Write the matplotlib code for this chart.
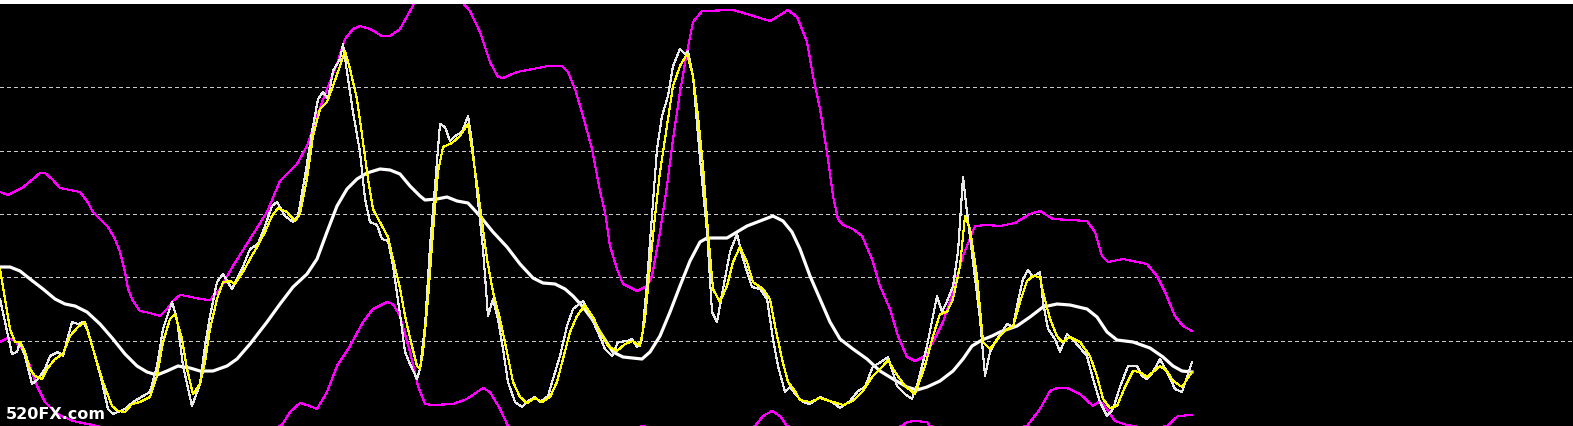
import matplotlib
matplotlib.use("Agg")
import matplotlib.pyplot as plt

# oscillator readings, y measured downward from the top of the pane (axis is inverted)
upper_x = [0, 8, 22, 33, 40, 45, 52, 60, 70, 80, 87, 93, 100, 108, 115, 120, 125, 128, 133, 140,
           150, 160, 167, 173, 180, 187, 200, 210, 220, 233, 250, 267, 280, 297, 307, 317, 327,
           337, 345, 353, 360, 370, 382, 390, 400, 415, 425, 440, 455, 462, 470, 480, 490, 498,
           503, 517, 533, 548, 562, 568, 575, 583, 592, 600, 605, 610, 617, 623, 637, 647, 652,
           660, 667, 673, 680, 687, 693, 702, 733, 747, 760, 770, 782, 788, 797, 800, 807, 813,
           820, 827, 833, 838, 843, 853, 862, 872, 880, 890, 898, 907, 915, 925, 933, 943, 953,
           963, 975, 987, 1000, 1015, 1030, 1040, 1053, 1087, 1095, 1102, 1108, 1123, 1147, 1157,
           1165, 1175, 1183, 1192]
upper_y = [193, 196, 189, 180, 174, 174, 180, 189, 191, 193, 202, 213, 220, 228, 240, 253, 273, 290,
           302, 312, 314, 317, 310, 302, 296, 297, 300, 301, 290, 267, 240, 213, 182, 165, 147,
           117, 90, 65, 40, 30, 27, 30, 37, 37, 30, 3, -5, -8, -3, 3, 12, 33, 63, 78, 79, 73, 70,
           67, 67, 73, 90, 117, 150, 192, 213, 247, 270, 285, 292, 287, 277, 233, 187, 140, 93,
           53, 23, 12, 11, 15, 19, 22, 15, 11, 18, 25, 43, 77, 110, 153, 197, 220, 226, 230, 237,
           260, 287, 310, 337, 358, 362, 357, 343, 323, 293, 257, 227, 226, 227, 224, 215, 212,
           220, 222, 233, 257, 263, 260, 265, 277, 293, 317, 327, 332]

lower_x = [0, 8, 15, 22, 30, 37, 45, 57, 73, 97, 150, 200, 250, 282, 290, 300, 307, 317, 327, 337,
           350, 363, 373, 387, 393, 400, 410, 418, 425, 433, 453, 467, 477, 483, 490, 500, 508,
           540, 600, 643, 690, 730, 755, 763, 772, 780, 787, 840, 902, 907, 915, 927, 930, 970,
           1027, 1040, 1050, 1057, 1067, 1080, 1093, 1100, 1107, 1115, 1127, 1133, 1150, 1167,
           1178, 1192]
lower_y = [343, 339, 342, 350, 367, 387, 403, 415, 422, 427, 440, 445, 440, 426, 413, 404, 406,
           410, 393, 367, 347, 323, 310, 303, 305, 317, 353, 387, 405, 406, 405, 400, 393, 389,
           393, 410, 427, 440, 437, 427, 440, 437, 427, 417, 412, 417, 427, 440, 427, 423, 422,
           423, 427, 435, 427, 410, 392, 389, 389, 395, 407, 402, 410, 422, 426, 427, 430, 427,
           417, 416]

ma_x = [0, 10, 20, 30, 43, 55, 65, 75, 87, 100, 113, 125, 137, 147, 157, 167, 178, 190, 200, 213,
        227, 237, 250, 267, 280, 293, 307, 317, 327, 337, 347, 357, 367, 380, 390, 400, 410,
        420, 425, 437, 447, 457, 468, 480, 493, 507, 520, 533, 543, 555, 565, 573, 583, 592,
        600, 613, 623, 642, 650, 660, 670, 680, 690, 700, 707, 727, 737, 747, 760, 773, 783,
        792, 800, 810, 820, 830, 840, 853, 867, 880, 893, 907, 917, 927, 940, 953, 963, 972,
        982, 992, 1000, 1017, 1030, 1043, 1057, 1070, 1087, 1097, 1107, 1117, 1133, 1150, 1163,
        1173, 1182, 1192]
ma_y = [268, 268, 272, 280, 290, 300, 305, 307, 313, 325, 340, 355, 367, 373, 376, 372, 367, 369,
        372, 372, 367, 360, 345, 323, 305, 288, 275, 260, 233, 207, 190, 180, 174, 170, 171,
        175, 187, 197, 201, 200, 198, 202, 204, 217, 233, 248, 265, 279, 284, 285, 290, 297,
        308, 320, 333, 353, 358, 360, 353, 337, 313, 287, 262, 243, 239, 239, 233, 227, 222,
        217, 222, 233, 250, 277, 300, 323, 340, 350, 360, 372, 380, 388, 391, 388, 382, 372,
        360, 347, 341, 337, 333, 327, 318, 308, 305, 306, 310, 318, 333, 341, 343, 349, 358,
        367, 372, 373]

signal_x = [0, 5, 10, 15, 20, 25, 30, 35, 42, 47, 55, 63, 70, 78, 85, 90, 97, 103, 112, 118, 125,
            132, 140, 150, 157, 163, 170, 175, 182, 187, 193, 200, 205, 210, 217, 223, 230, 235,
            243, 250, 257, 265, 272, 278, 287, 295, 300, 307, 313, 320, 327, 333, 340, 345, 350,
            357, 363, 368, 373, 382, 388, 393, 400, 405, 412, 417, 420, 423, 428, 433, 438, 443,
            452, 460, 468, 473, 480, 487, 493, 500, 507, 513, 520, 527, 535, 542, 550, 557, 563,
            570, 577, 585, 593, 600, 608, 617, 625, 633, 640, 645, 650, 655, 660, 667, 673, 680,
            687, 693, 698, 703, 708, 713, 720, 727, 733, 740, 747, 753, 763, 770, 775, 782, 788,
            795, 800, 810, 820, 833, 843, 853, 863, 873, 883, 888, 895, 905, 915, 925, 933, 940,
            947, 953, 960, 965, 970, 977, 983, 990, 1000, 1007, 1013, 1020, 1027, 1033, 1040,
            1043, 1050, 1057, 1062, 1070, 1080, 1090, 1097, 1103, 1110, 1117, 1125, 1133, 1140,
            1147, 1153, 1160, 1167, 1173, 1182, 1192]
signal_y = [270, 300, 330, 343, 343, 353, 370, 377, 380, 370, 360, 355, 337, 328, 323, 340, 363,
            383, 407, 412, 413, 405, 403, 398, 377, 343, 320, 315, 340, 370, 395, 385, 363, 330,
            300, 283, 282, 285, 273, 260, 248, 233, 217, 209, 213, 222, 215, 180, 137, 110, 103,
            87, 67, 52, 70, 100, 143, 180, 210, 227, 238, 260, 289, 317, 347, 367, 370, 353, 300,
            233, 173, 148, 144, 137, 125, 157, 207, 260, 293, 320, 353, 383, 398, 404, 399, 403,
            398, 383, 360, 333, 317, 306, 318, 333, 347, 352, 345, 342, 347, 320, 267, 217, 173,
            127, 87, 67, 55, 77, 117, 167, 233, 290, 303, 287, 263, 248, 263, 283, 290, 300, 327,
            360, 383, 392, 401, 403, 399, 403, 406, 402, 392, 377, 367, 361, 373, 387, 395, 367,
            337, 315, 313, 300, 267, 217, 230, 277, 343, 350, 337, 330, 328, 303, 282, 277, 278,
            293, 320, 337, 343, 338, 343, 357, 377, 400, 409, 407, 388, 372, 373, 378, 373, 367,
            372, 382, 388, 373]

main_x = [0, 5, 12, 17, 20, 25, 32, 38, 45, 50, 58, 63, 72, 78, 83, 88, 95, 102, 108, 113, 120,
          125, 133, 143, 150, 157, 163, 172, 177, 183, 192, 200, 205, 210, 217, 223, 232, 242,
          250, 258, 265, 272, 277, 285, 293, 298, 305, 312, 318, 323, 328, 333, 340, 343, 347,
          353, 360, 365, 370, 377, 382, 388, 393, 400, 405, 410, 417, 420, 425, 430, 435, 440,
          445, 450, 455, 462, 468, 472, 477, 483, 488, 493, 498, 503, 508, 515, 522, 528, 535,
          540, 548, 553, 560, 567, 573, 583, 592, 600, 605, 612, 618, 628, 632, 637, 642, 647,
          652, 657, 662, 668, 673, 680, 685, 688, 693, 700, 707, 712, 717, 723, 730, 737, 743,
          752, 760, 767, 773, 778, 785, 790, 797, 803, 810, 820, 832, 840, 850, 858, 865, 873,
          878, 888, 897, 905, 912, 918, 927, 937, 942, 948, 953, 958, 963, 967, 973, 980, 985,
          990, 997, 1007, 1013, 1018, 1023, 1028, 1033, 1040, 1043, 1048, 1055, 1060, 1067, 1075,
          1087, 1093, 1100, 1107, 1113, 1120, 1128, 1137, 1142, 1147, 1153, 1160, 1167, 1175,
          1182, 1192]
main_y = [300, 323, 355, 353, 343, 357, 385, 380, 370, 357, 353, 357, 323, 325, 323, 332, 357, 383,
          410, 415, 412, 410, 403, 397, 393, 367, 330, 303, 320, 367, 407, 385, 347, 317, 283,
          275, 290, 270, 250, 245, 227, 207, 203, 217, 223, 217, 177, 133, 100, 93, 100, 72, 60,
          45, 73, 113, 153, 200, 223, 226, 240, 242, 267, 315, 353, 365, 380, 370, 327, 247, 187,
          125, 128, 142, 137, 133, 117, 143, 193, 250, 317, 300, 320, 350, 383, 403, 408, 402,
          398, 403, 397, 380, 357, 327, 310, 302, 320, 338, 350, 357, 343, 342, 340, 348, 340,
          283, 217, 150, 117, 97, 67, 50, 55, 52, 77, 160, 233, 313, 323, 290, 253, 235, 260, 288,
          290, 300, 340, 367, 393, 388, 397, 403, 405, 398, 403, 409, 402, 392, 388, 367, 365,
          358, 387, 395, 400, 383, 347, 297, 313, 300, 287, 253, 178, 213, 263, 320, 377, 353,
          340, 325, 328, 302, 280, 271, 278, 273, 303, 330, 340, 353, 335, 343, 357, 380, 403,
          417, 410, 388, 367, 367, 377, 380, 373, 360, 373, 390, 393, 363]

grid_levels = [88, 152, 215, 278, 342]
watermark = "520FX.com"

fig = plt.figure(figsize=(15.73, 4.27), dpi=100, facecolor="black")
ax = fig.add_axes([0, 0, 1, 1], facecolor="black")

for lvl in grid_levels:
    ax.axhline(lvl, color="#c8c8c8", lw=0.75, ls=(0, (3, 3)), antialiased=False)

ax.plot(upper_x, upper_y, color="#ff00ff", lw=0.8, antialiased=False)
ax.plot(lower_x, lower_y, color="#ff00ff", lw=0.8, antialiased=False)
ax.plot(ma_x, ma_y, color="white", lw=2.3)
ax.plot(main_x, main_y, color="#e8e8e8", lw=0.8, antialiased=False)
ax.plot(signal_x, signal_y, color="#ffff00", lw=0.8, antialiased=False)

# double white rule along the top edge
ax.axhline(0.5, color="white", lw=0.8, antialiased=False)
ax.axhline(2.5, color="white", lw=0.8, antialiased=False)

ax.set_xlim(0, 1573)
ax.set_ylim(427, 0)
ax.axis("off")

ax.text(6, 422, watermark, color="white", fontsize=11.5, fontweight="heavy",
        family="DejaVu Sans", va="bottom", ha="left")

fig.savefig("out.png", dpi=100, facecolor="black")
